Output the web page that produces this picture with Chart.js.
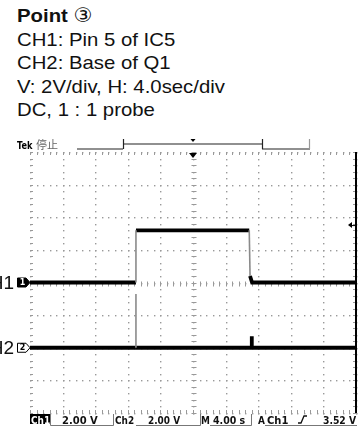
<!DOCTYPE html>
<html>
<head>
<meta charset="utf-8">
<script src="https://cdn.jsdelivr.net/npm/chart.js@4.4.0/dist/chart.umd.min.js"></script>
<style>
  html, body { margin: 0; padding: 0; background: #fff; width: 360px; height: 430px; overflow: hidden; }
  #wrap { position: relative; width: 360px; height: 430px; }
  #hdr {
    position: absolute; left: 17px; top: 4px;
    font-family: "Liberation Sans", Arial, sans-serif; font-size: 19px; line-height: 23.6px;
    color: #111; white-space: nowrap; transform-origin: 0 0; transform: scaleX(1.07);
  }
  #hdr .c { font-family: "DejaVu Sans", sans-serif; font-size: 20px; }
  #scope { position: absolute; left: 0; top: 0; }
</style>
</head>
<body>
<div id="wrap">
  <div id="hdr"><b>Point</b> <span class="c">③</span><br>CH1: Pin 5 of IC5<br>CH2: Base of Q1<br>V: 2V/div, H: 4.0sec/div<br>DC, 1 : 1 probe</div>
  <canvas id="scope" width="360" height="430"></canvas>
</div>
<script>
// Horizontal / vertical settings
const secPerDiv = 4;
const voltsPerDiv = 2;
const hDivs = 10;
const vDivs = 8;

// CH1: pin 5 of IC5 (time in s, level in V)
const ch1Time = [0, 13.0, 13.0, 26.9, 27.0, 27.25, 40];
const ch1Volt = [0, 0, 3.2, 3.2, 0.4, 0, 0];

// CH2: base of Q1 (time in s, level in V)
const ch2Time = [0, 13.0, 13.0, 13.0, 27.17, 27.2, 27.23, 40];
const ch2Volt = [0, 0, 3.3, 0, 0, 0.7, 0, 0];

// Channel ground positions (divisions from screen centre)
const ch1Position = 0;
const ch2Position = -2;

// Trigger
const trigLevel = 3.52;   // V, on CH1
const trigTime = 20;      // s, trigger point on screen

// Status readouts
const ch1Scale = '2.00 V';
const ch2Scale = '2.00 V';
const timeScale = '4.00 s';
const trigReadout = '3.52 V';

const xMax = secPerDiv * hDivs;
const yHalf = voltsPerDiv * vDivs / 2;

function points(times, volts, posDiv) {
  return times.map((t, i) => ({ x: t, y: volts[i] + posDiv * voltsPerDiv }));
}

// Fast transitions are faint on the scope screen
const isFast = ctx => Math.abs(ctx.p1.parsed.y - ctx.p0.parsed.y) > 1.5;
const HIDE = 'rgba(0,0,0,0)';

function traceSets(label, data) {
  return [
    {
      label: label + ' edges', data,
      borderColor: '#8a8a8a', borderWidth: 1.6, pointRadius: 0,
      segment: { borderColor: c => isFast(c) ? undefined : HIDE }
    },
    {
      label, data,
      borderColor: '#000', borderWidth: 3.8, pointRadius: 0,
      borderJoinStyle: 'miter', borderCapStyle: 'butt',
      segment: { borderColor: c => isFast(c) ? HIDE : undefined }
    }
  ];
}

const GRID = '#999';
const STATUS_FONT = 'bold 10.5px "DejaVu Sans", sans-serif';

// Draws text squeezed horizontally
function narrowText(ctx, text, px, py, sx) {
  ctx.save();
  ctx.translate(px, py);
  ctx.scale(sx, 1);
  ctx.fillText(text, 0, 0);
  ctx.restore();
}

const scopeDecor = {
  id: 'scopeDecor',
  beforeDatasetsDraw(chart) {
    const { ctx, chartArea: a, scales: { x, y } } = chart;
    ctx.save();
    const minorX = [], minorY = [];
    for (let t = 0; t <= xMax + 1e-6; t += secPerDiv / 5) minorX.push(Math.round(x.getPixelForValue(t)));
    for (let v = -yHalf; v <= yHalf + 1e-6; v += voltsPerDiv / 5) minorY.push(Math.round(y.getPixelForValue(v)));
    const majorX = x.ticks.map(t => Math.round(x.getPixelForValue(t.value)));
    const majorY = y.ticks.map(t => Math.round(y.getPixelForValue(t.value)));

    // dotted graticule lines at every division
    ctx.fillStyle = GRID;
    majorX.forEach(px => minorY.forEach(py => ctx.fillRect(px, py, 1.4, 1.4)));
    majorY.forEach(py => minorX.forEach(px => ctx.fillRect(px, py, 1.4, 1.4)));

    // minor ticks along the centre lines and the frame edges
    ctx.strokeStyle = GRID;
    ctx.lineWidth = 1;
    const xc = Math.round(x.getPixelForValue(xMax / 2)) + 0.5;
    const yc = Math.round(y.getPixelForValue(0)) + 0.5;
    ctx.beginPath();
    minorX.forEach(p => {
      const px = p + 0.5;
      ctx.moveTo(px, yc - 2); ctx.lineTo(px, yc + 3);
      ctx.moveTo(px, a.top); ctx.lineTo(px, a.top + 3);
      ctx.moveTo(px, a.bottom - 3); ctx.lineTo(px, a.bottom);
    });
    minorY.forEach(p => {
      const py = p + 0.5;
      ctx.moveTo(xc - 2, py); ctx.lineTo(xc + 3, py);
      ctx.moveTo(a.left, py); ctx.lineTo(a.left + 3, py);
      ctx.moveTo(a.right - 3, py); ctx.lineTo(a.right, py);
    });
    ctx.stroke();
    ctx.restore();
  },
  afterDraw(chart) {
    const { ctx, chartArea: a, scales: { x, y } } = chart;
    ctx.save();

    // right frame edge
    ctx.strokeStyle = '#000';
    ctx.lineWidth = 2;
    ctx.beginPath();
    ctx.moveTo(a.right, a.top); ctx.lineTo(a.right, a.bottom);
    ctx.stroke();

    // trigger position marker
    const tx = x.getPixelForValue(trigTime);
    ctx.fillStyle = '#000';
    ctx.beginPath();
    ctx.moveTo(tx - 4, a.top + 1); ctx.lineTo(tx + 4, a.top + 1); ctx.lineTo(tx, a.top + 6);
    ctx.closePath(); ctx.fill();
    ctx.beginPath();
    ctx.moveTo(tx - 2.5, a.top - 13); ctx.lineTo(tx + 2.5, a.top - 13); ctx.lineTo(tx, a.top - 10);
    ctx.closePath(); ctx.fill();

    // trigger level marker
    const ty = y.getPixelForValue(trigLevel + ch1Position * voltsPerDiv);
    ctx.beginPath();
    ctx.moveTo(a.right - 8, ty); ctx.lineTo(a.right - 4, ty - 3); ctx.lineTo(a.right - 4, ty + 3);
    ctx.closePath(); ctx.fill();
    ctx.lineWidth = 1;
    ctx.beginPath();
    ctx.moveTo(a.right - 5, ty + 0.5); ctx.lineTo(a.right - 1, ty + 0.5);
    ctx.stroke();

    // header line: Tek + acquisition state + record bar
    ctx.fillStyle = '#000';
    ctx.font = 'bold 10.5px "DejaVu Sans", sans-serif';
    ctx.textBaseline = 'alphabetic';
    narrowText(ctx, 'Tek', 17, 149, 0.78);
    ctx.fillStyle = '#666';
    ctx.font = '11px "Noto Sans CJK SC", sans-serif';
    ctx.fillText('停止', 36, 149);
    ctx.strokeStyle = '#222';
    ctx.lineWidth = 1.2;
    ctx.beginPath();
    ctx.moveTo(77, 149); ctx.lineTo(123, 149);
    ctx.moveTo(123, 144); ctx.lineTo(262, 144);
    ctx.moveTo(262, 149); ctx.lineTo(310, 149);
    ctx.moveTo(123.5, 139); ctx.lineTo(123.5, 149);
    ctx.moveTo(262.5, 139); ctx.lineTo(262.5, 149);
    ctx.stroke();
    ctx.strokeStyle = '#999';
    ctx.beginPath();
    ctx.moveTo(309.5, 139); ctx.lineTo(309.5, 149);
    ctx.stroke();

    // channel ground markers
    const drawMarker = (py, text, filled) => {
      ctx.beginPath();
      ctx.moveTo(17.5, py - 4.5); ctx.lineTo(26, py - 4.5); ctx.lineTo(30, py);
      ctx.lineTo(26, py + 4.5); ctx.lineTo(17.5, py + 4.5); ctx.closePath();
      ctx.fillStyle = filled ? '#000' : '#fff';
      ctx.fill();
      ctx.strokeStyle = '#000'; ctx.lineWidth = 1;
      ctx.stroke();
      ctx.fillStyle = filled ? '#fff' : '#000';
      ctx.font = 'bold 8px "DejaVu Sans", sans-serif';
      ctx.textAlign = 'center'; ctx.textBaseline = 'middle';
      ctx.fillText(text, 22.5, py + 0.5);
    };
    const g1 = y.getPixelForValue(ch1Position * voltsPerDiv);
    const g2 = y.getPixelForValue(ch2Position * voltsPerDiv);
    drawMarker(g1, '1', true);
    drawMarker(g2, '2', false);

    // channel names at the left edge
    ctx.fillStyle = '#111';
    ctx.font = '19px "Liberation Sans", Arial, sans-serif';
    ctx.textAlign = 'right'; ctx.textBaseline = 'middle';
    ctx.fillText('CH1', 14, g1 + 1);
    ctx.fillText('CH2', 14, g2 + 1);

    // status bar
    const sy = 423.5;
    ctx.textAlign = 'left'; ctx.textBaseline = 'alphabetic';
    ctx.font = STATUS_FONT;
    ctx.fillStyle = '#000';
    ctx.fillRect(a.left, 414, 20, 10);
    ctx.fillStyle = '#fff';
    narrowText(ctx, 'Ch1', a.left + 1, sy, 0.85);
    ctx.fillStyle = '#111';
    narrowText(ctx, ch1Scale, 62, sy, 0.95);
    narrowText(ctx, 'Ch2', 115, sy, 0.85);
    narrowText(ctx, ch2Scale, 148, sy, 0.85);
    narrowText(ctx, 'M', 201, sy, 0.85);
    narrowText(ctx, timeScale, 213, sy, 0.9);
    narrowText(ctx, 'A', 258, sy, 0.85);
    narrowText(ctx, 'Ch1', 267, sy, 0.95);
    narrowText(ctx, trigReadout, 323, sy, 0.88);
    // rising-slope symbol
    ctx.strokeStyle = '#111'; ctx.lineWidth = 1.3;
    ctx.beginPath();
    ctx.moveTo(298, 423); ctx.lineTo(301, 423); ctx.lineTo(304, 416); ctx.lineTo(307, 416);
    ctx.stroke();
    // readout frames
    ctx.strokeStyle = '#777'; ctx.lineWidth = 1;
    ctx.beginPath();
    ctx.moveTo(50.5, 414); ctx.lineTo(50.5, 425.5); ctx.lineTo(113.5, 425.5); ctx.lineTo(113.5, 414);
    ctx.moveTo(136, 425.5); ctx.lineTo(200.5, 425.5); ctx.lineTo(200.5, 414);
    ctx.moveTo(210, 425.5); ctx.lineTo(251.5, 425.5); ctx.lineTo(251.5, 414);
    ctx.moveTo(265, 425.5); ctx.lineTo(357, 425.5);
    ctx.stroke();

    ctx.restore();
  }
};

new Chart(document.getElementById('scope'), {
  type: 'line',
  data: {
    datasets: [
      ...traceSets('CH2', points(ch2Time, ch2Volt, ch2Position)),
      ...traceSets('CH1', points(ch1Time, ch1Volt, ch1Position))
    ]
  },
  options: {
    responsive: false,
    devicePixelRatio: 1,
    animation: false,
    layout: { padding: { left: 30, right: 4, top: 152, bottom: 17 } },
    plugins: { legend: { display: false }, tooltip: { enabled: false } },
    elements: { line: { tension: 0 } },
    scales: {
      x: {
        type: 'linear', min: 0, max: xMax,
        ticks: { stepSize: secPerDiv, display: false },
        grid: { display: false, drawTicks: false },
        border: { display: false }
      },
      y: {
        type: 'linear', min: -yHalf, max: yHalf,
        ticks: { stepSize: voltsPerDiv, display: false },
        grid: { display: false, drawTicks: false },
        border: { display: false }
      }
    }
  },
  plugins: [scopeDecor]
});
</script>
</body>
</html>
